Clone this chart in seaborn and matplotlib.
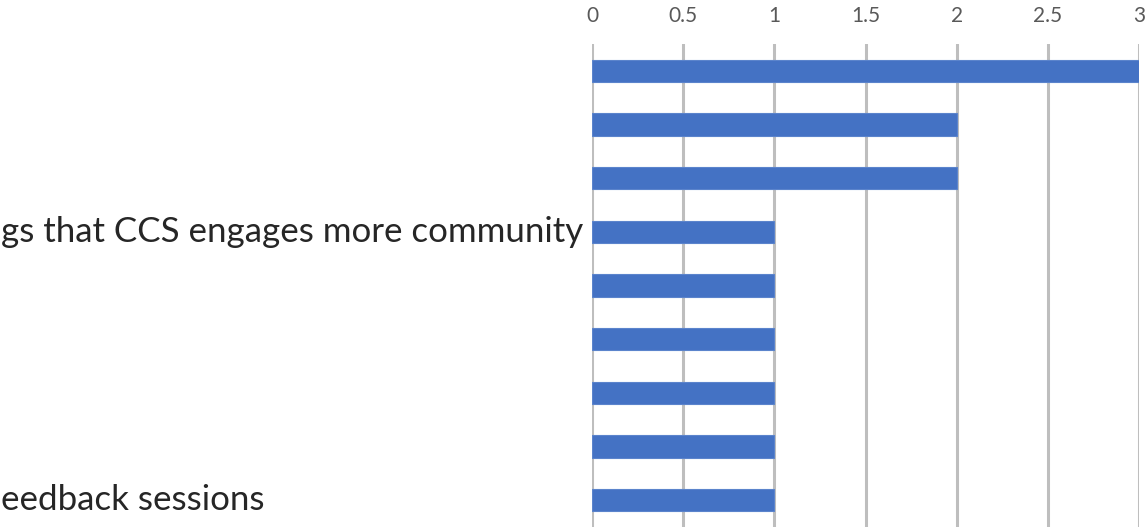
import matplotlib
matplotlib.use("Agg")
import matplotlib.pyplot as plt
import seaborn as sns
import pandas as pd
from matplotlib.transforms import blended_transform_factory

categories = ["c1", "c2", "c3", "c4", "c5", "c6", "c7", "c8", "c9"]
values = [3, 2, 2, 1, 1, 1, 1, 1, 1]
labels = ["", "", "", "gs that CCS engages more community", "", "", "", "", "eedback sessions"]
xticks = [0, 0.5, 1, 1.5, 2, 2.5, 3]
xticklabels = ["0", "0.5", "1", "1.5", "2", "2.5", "3"]

sns.set_theme(style="white")
plt.rcParams["font.family"] = ["Lato", "DejaVu Sans"]

W, H = 1145, 529
fig = plt.figure(figsize=(W / 100, H / 100), dpi=100)
ax = fig.add_axes([592 / W, 2 / H, (1139 - 592) / W, (485 - 2) / H])

df = pd.DataFrame({"cat": categories, "val": values})
sns.barplot(data=df, x="val", y="cat", orient="h", color="#4472C4",
            saturation=1, width=0.41, ax=ax, zorder=3, edgecolor="#5B84CC", linewidth=0.8)

ax.set_xlim(0, 3)
ax.set_ylim(8.5, -0.5)
ax.xaxis.tick_top()
ax.set_xticks(xticks)
ax.set_xticklabels(xticklabels, fontsize=15, color="#595959")
ax.tick_params(axis="x", length=0, pad=13, top=True, bottom=False)
ax.set_yticks([])
ax.set_xlabel("")
ax.set_ylabel("")
ax.grid(axis="x", color="#BEBEBE", linewidth=2.2, zorder=0)
ax.set_axisbelow(True)
for s in ax.spines.values():
    s.set_visible(False)

trans = blended_transform_factory(fig.transFigure, ax.transData)
for i, lab in enumerate(labels):
    if lab:
        ax.text(1 / W, i, lab, transform=trans, ha="left", va="center",
                fontsize=25.1, color="#262626", clip_on=False)

fig.savefig("out.png", dpi=100)
